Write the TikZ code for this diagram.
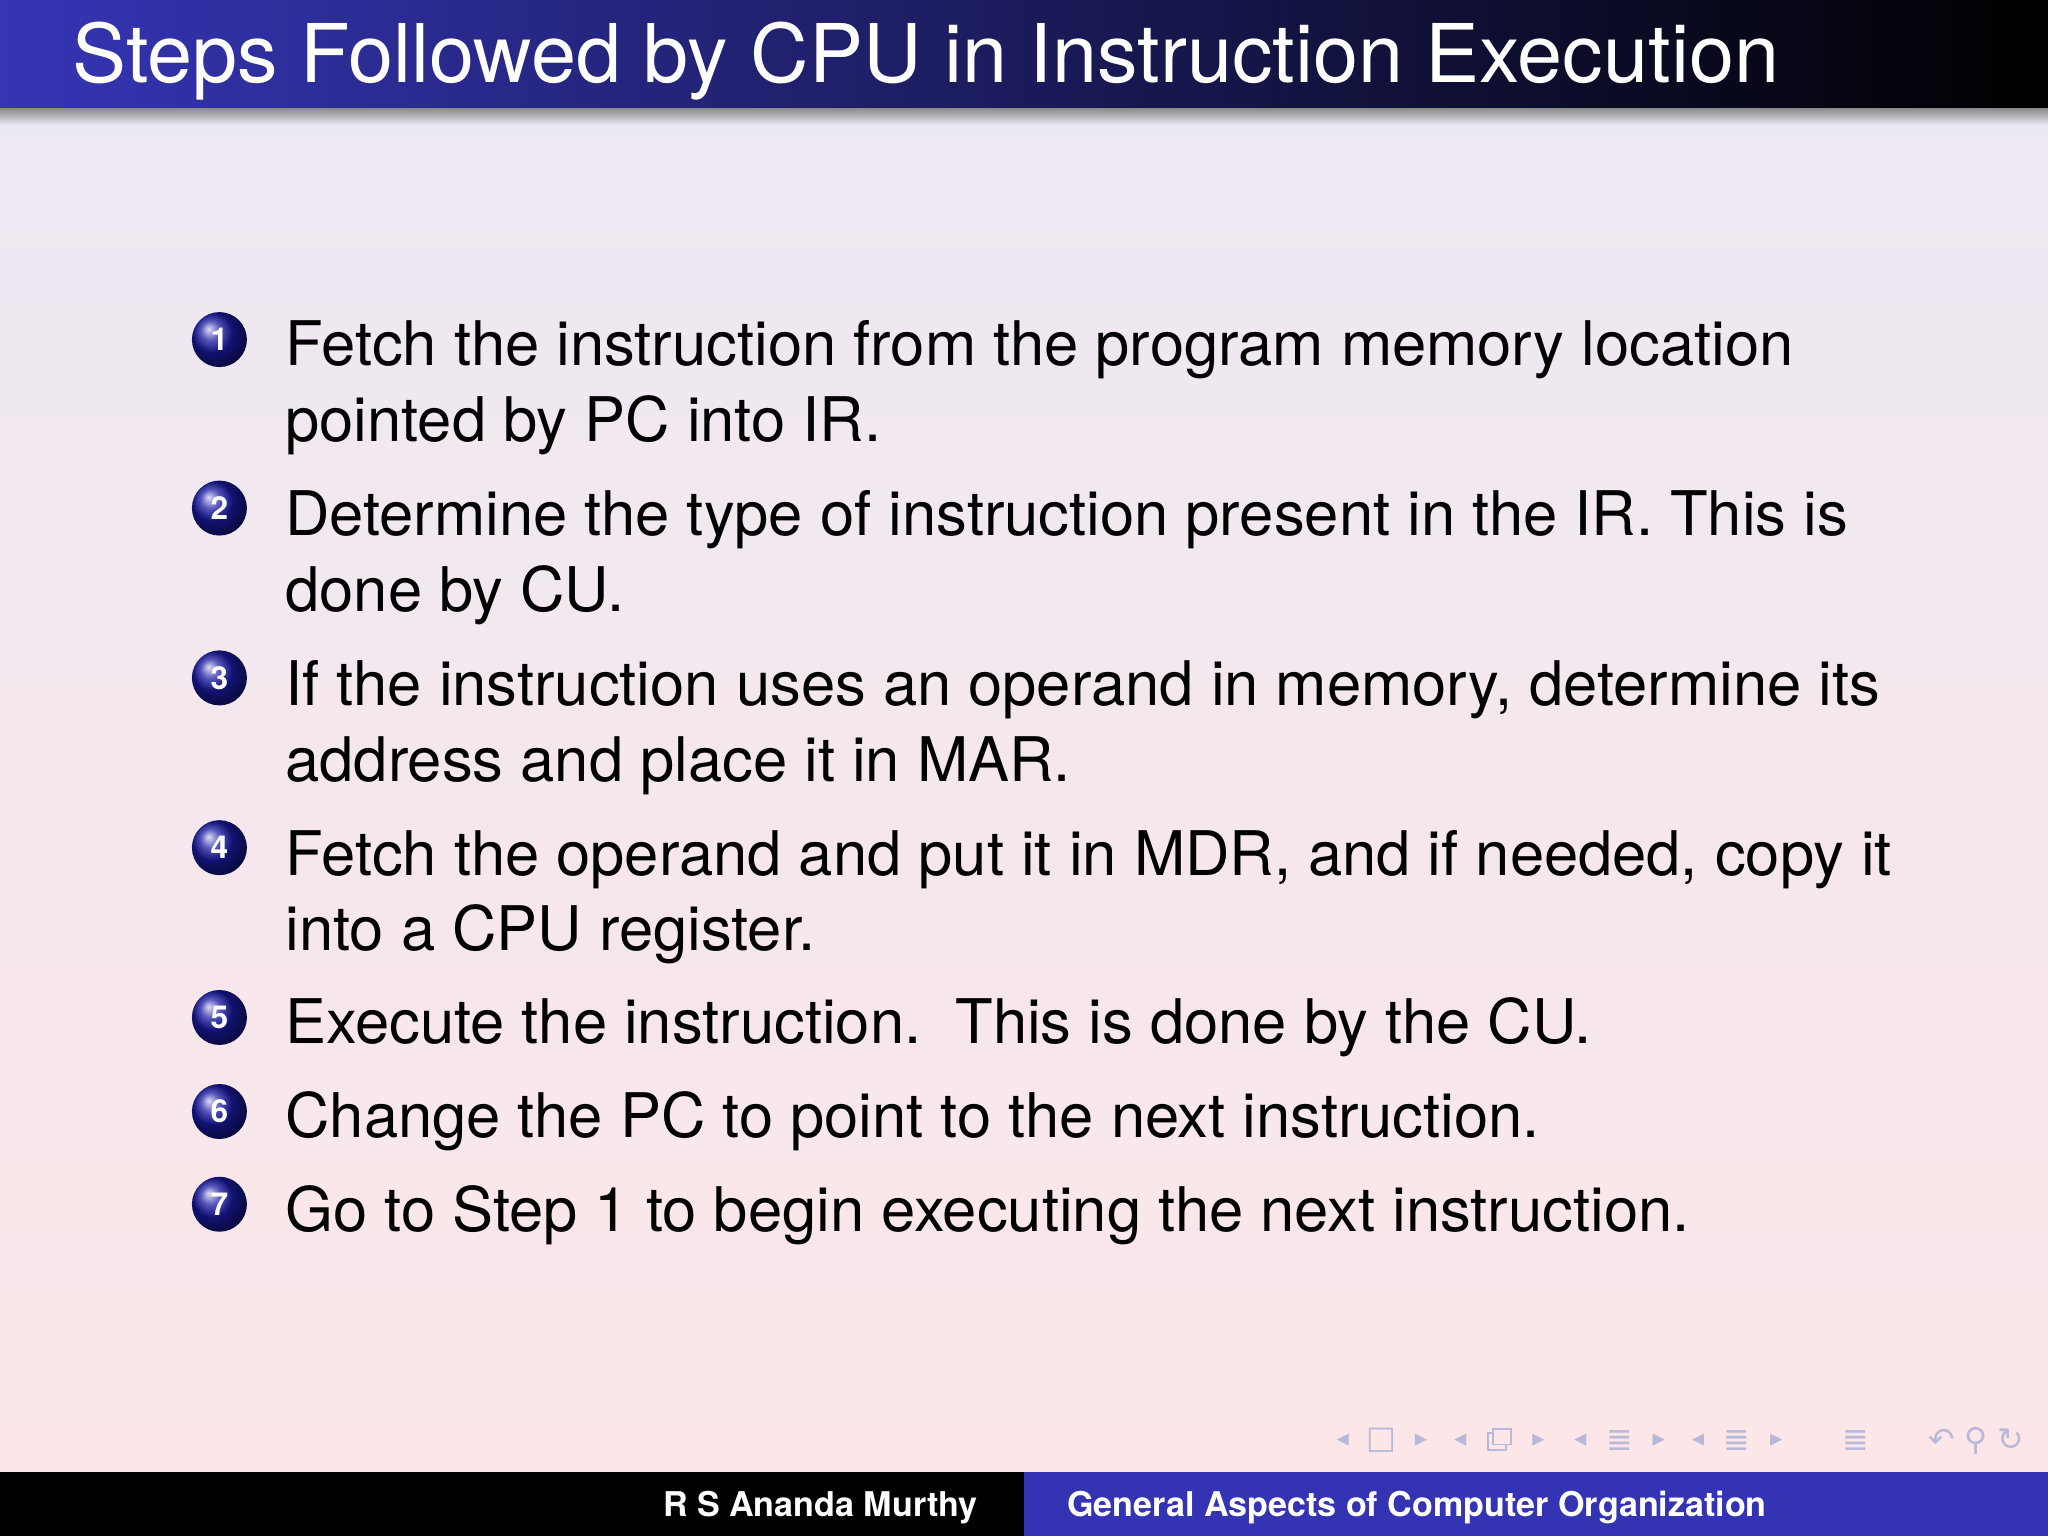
\documentclass[tikz,border=0pt]{standalone}
\usepackage{fontspec}
\setmainfont{TeX Gyre Heros}
\newfontfamily\symf{DejaVu Sans}
\definecolor{bgtop}{HTML}{ECE9F4}
\definecolor{bgbot}{HTML}{FCE6E8}
\definecolor{titleblue}{HTML}{3535B5}
\definecolor{footblue}{HTML}{3333B3}
\definecolor{navgray}{HTML}{B8B8D8}
\tikzset{
  item/.style={anchor=base west, inner sep=0pt, font=\fontsize{17.5}{21}\selectfont},
  ballnum/.style={circle, minimum size=0.55cm, inner sep=0pt, shading=ball, ball color=blue!60!black!90, text=white, font=\bfseries\fontsize{9}{10}\selectfont},
  foot/.style={anchor=base, inner sep=0pt, text=white, font=\bfseries\fontsize{9.7}{11}\selectfont},
  nav/.style={inner sep=0pt, text=navgray, font=\symf\fontsize{7}{8}\selectfont}
}
\begin{document}
\begin{tikzpicture}[x=0.013061cm, y=-0.013061cm]
\useasboundingbox (0,0) rectangle (1568,1176);
\shade[top color=bgtop, bottom color=bgbot] (0,0) rectangle (1568,1127);
\shade[left color=titleblue, right color=black] (0,0) rectangle (1568,83);
\shade[top color=black!45, bottom color=bgtop] (0,83) rectangle (1568,96);
\node[anchor=base west, inner sep=0pt, text=white, font=\fontsize{23.05}{28}\selectfont] (title) at (55,63) {Steps Followed by CPU in Instruction Execution};
% items
\node[ballnum] (b1) at (168,260) {1};
\node[item] (t1a) at (218,280) {Fetch the instruction from the program memory location};
\node[item] (t1b) at (218,338) {pointed by PC into IR.};
\node[ballnum] (b2) at (168,389) {2};
\node[item] (t2a) at (218,410) {Determine the type of instruction present in the IR. This is};
\node[item] (t2b) at (218,468) {done by CU.};
\node[ballnum] (b3) at (168,519) {3};
\node[item] (t3a) at (218,540) {If the instruction uses an operand in memory, determine its};
\node[item] (t3b) at (218,598) {address and place it in MAR.};
\node[ballnum] (b4) at (168,649) {4};
\node[item] (t4a) at (218,670) {Fetch the operand and put it in MDR, and if needed, copy it};
\node[item] (t4b) at (218,728) {into a CPU register.};
\node[ballnum] (b5) at (168,779) {5};
\node[item] (t5) at (218,799) {Execute the instruction.\ \ This is done by the CU.};
\node[ballnum] (b6) at (168,851) {6};
\node[item] (t6) at (218,871) {Change the PC to point to the next instruction.};
\node[ballnum] (b7) at (168,922) {7};
\node[item] (t7) at (218,943) {Go to Step 1 to begin executing the next instruction.};
% nav symbols
\node[nav] (n1) at (1028,1103) {◂};
\node[nav] (n2) at (1058,1103) {\fontsize{9}{9}\selectfont□};
\node[nav] (n3) at (1088,1103) {▸};
\node[nav] (n4) at (1118,1103) {◂};
\draw[navgray, line width=0.5pt] (1139,1097) rectangle (1153,1110);
\draw[navgray, line width=0.5pt, fill=bgbot] (1143,1094) rectangle (1157,1106);
\node[nav] (n6) at (1178,1103) {▸};
\node[nav] (n7) at (1210,1103) {◂};
\node[nav] (n8) at (1240,1103) {\fontsize{9}{9}\selectfont≣};
\node[nav] (n9) at (1270,1103) {▸};
\node[nav] (n10) at (1300,1103) {◂};
\node[nav] (n11) at (1330,1103) {\fontsize{9}{9}\selectfont≣};
\node[nav] (n12) at (1360,1103) {▸};
\node[nav] (n13) at (1421,1103) {\fontsize{9}{9}\selectfont≣};
\node[nav] (n14) at (1513,1103) {\fontsize{9}{9}\selectfont↶ ⚲ ↻};
% footer
\fill[black] (0,1127) rectangle (784,1176);
\fill[footblue] (784,1127) rectangle (1568,1176);
\node[foot] (fa) at (628,1161) {R S Ananda Murthy};
\node[foot] (fb) at (1085,1161) {General Aspects of Computer Organization};
\end{tikzpicture}
\end{document}
